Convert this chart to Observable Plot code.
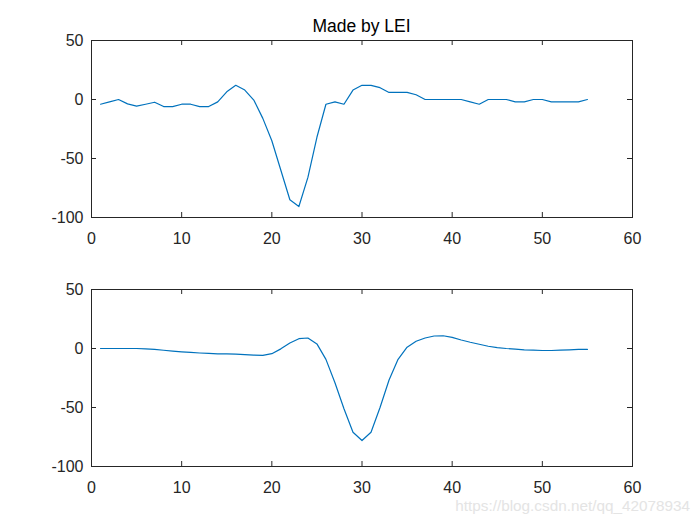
<!DOCTYPE html>
<html>
<head>
<meta charset="utf-8">
<script src="https://cdn.jsdelivr.net/npm/d3@7"></script>
<script src="https://cdn.jsdelivr.net/npm/@observablehq/plot@0.6"></script>
<style>
  html, body { margin: 0; padding: 0; background: #fff; }
  #wrap { position: relative; width: 700px; height: 525px; overflow: hidden; font-family: "Liberation Sans", Arial, sans-serif; }
  #wrap svg { display: block; }
  #title { position: absolute; left: 91px; width: 541px; top: 16px; text-align: center; font-size: 17.5px; line-height: 20px; color: #000; }
  #mark { position: absolute; right: 10px; top: 497px; font-size: 15.3px; line-height: 18px; color: #e4e4e4; }
</style>
</head>
<body>
<div id="wrap">
  <div id="plots"></div>
  <div id="title">Made by LEI</div>
  <div id="mark">https://blog.csdn.net/qq_42078934</div>
</div>
<script>
// Sample index 1..55
const xs = d3.range(1, 56);

// Top subplot: raw signal
const topValues = [
  -4, -2, 0, -3.7, -5.6, -4, -2.3, -6, -6, -4,
  -4, -6, -6, -2, 6.5, 12, 8, -0.5, -16, -35,
  -60, -85, -90.7, -66, -32, -4, -2, -4, 8, 12,
  12, 10, 6, 6, 6, 4, 0, 0, 0, 0,
  0, -2, -4, 0, 0, 0, -2, -2, 0, 0,
  -2, -2, -2, -2, 0
];

// Bottom subplot: filtered / shifted signal
const bottomValues = [
  0, 0, 0, 0, 0, -0.3, -0.8, -1.5, -2.2, -2.8,
  -3.3, -3.8, -4.2, -4.5, -4.6, -4.8, -5.2, -5.6, -5.8, -4.4,
  -0.3, 4.7, 8.3, 8.9, 3.9, -9.2, -29, -51, -71, -78,
  -71, -50, -26.7, -9.2, 1.1, 6.1, 8.9, 10.6, 10.8, 9.4,
  7.2, 5.3, 3.6, 1.9, 0.8, 0, -0.5, -1.1, -1.4, -1.7,
  -1.7, -1.4, -1.1, -0.8, -0.8
];

const xTicks = [0, 10, 20, 30, 40, 50, 60];
const yTicks = [-100, -50, 0, 50];
const xDomain = [0, 60];
const yDomain = [-100, 50];

const axisColor = "#262626";
const lineColor = "#0072BD";
const frameW = 541, frameH = 177, tickLen = 5;
const fmt = d => String(d);

function subplot(values, marginTop, marginBottom, height) {
  const data = xs.map((x, i) => ({x, y: values[i]}));
  return Plot.plot({
    width: 700,
    height,
    marginLeft: 91,
    marginRight: 68,
    marginTop,
    marginBottom,
    style: {fontFamily: "Liberation Sans, Arial, sans-serif", color: axisColor, background: "#fff"},
    x: {domain: xDomain, ticks: xTicks},
    y: {domain: yDomain, ticks: yTicks},
    marks: [
      Plot.line(data, {x: "x", y: "y", stroke: lineColor, strokeWidth: 1.2}),
      Plot.ruleX(xTicks, {stroke: axisColor, insetTop: frameH - tickLen}),
      Plot.ruleX(xTicks, {stroke: axisColor, insetBottom: frameH - tickLen}),
      Plot.ruleY(yTicks, {stroke: axisColor, insetRight: frameW - tickLen}),
      Plot.ruleY(yTicks, {stroke: axisColor, insetLeft: frameW - tickLen}),
      Plot.frame({stroke: axisColor, strokeWidth: 1}),
      Plot.axisX({ticks: xTicks, tickFormat: fmt, tickSize: 0, tickPadding: 15, fontSize: 16, label: null, fill: axisColor}),
      Plot.axisY({ticks: yTicks, tickFormat: fmt, tickSize: 0, tickPadding: 8, fontSize: 16, label: null, fill: axisColor})
    ]
  });
}

const plots = document.getElementById("plots");
plots.appendChild(subplot(topValues, 40, 45, 262));
plots.appendChild(subplot(bottomValues, 27, 59, 263));
</script>
</body>
</html>
